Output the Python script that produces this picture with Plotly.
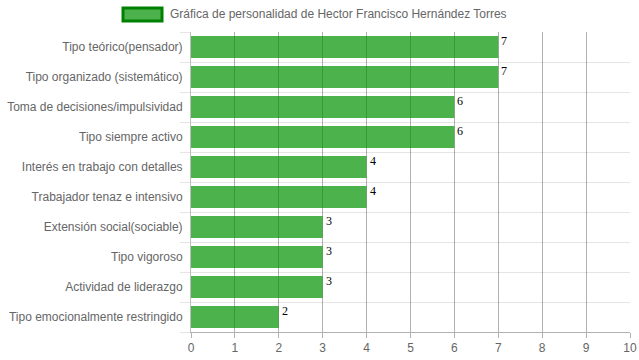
import plotly.graph_objects as go

categories = [
    "Tipo teórico(pensador)",
    "Tipo organizado (sistemático)",
    "Toma de decisiones/impulsividad",
    "Tipo siempre activo",
    "Interés en trabajo con detalles",
    "Trabajador tenaz e intensivo",
    "Extensión social(sociable)",
    "Tipo vigoroso",
    "Actividad de liderazgo",
    "Tipo emocionalmente restringido",
]
values = [7, 7, 6, 6, 4, 4, 3, 3, 3, 2]
series_name = "Gráfica de personalidad de Hector Francisco Hernández Torres"
x_ticks = list(range(0, 11))

bar_fill = "rgba(0,145,0,0.7)"
bar_line = "rgba(0,128,0,1)"

pos = list(range(len(categories)))
bounds = [p - 0.5 for p in pos] + [pos[-1] + 0.5]

fig = go.Figure()
fig.add_trace(go.Bar(
    x=values, y=pos, orientation="h",
    name=series_name,
    marker=dict(color=bar_fill, line=dict(width=0)),
    showlegend=False,
))

for p, v in zip(pos, values):
    fig.add_annotation(
        x=v, y=p, text=str(v), showarrow=False,
        xanchor="left", yanchor="middle", xshift=1, yshift=6,
        font=dict(family="Liberation Serif", size=12, color="#000"),
    )

# legend (swatch + label)
fig.add_shape(type="rect", xref="paper", yref="paper",
              x0=(123 - 191) / 439, x1=(162 - 191) / 439,
              y0=(332 - 21) / 300, y1=(332 - 8) / 300,
              fillcolor=bar_fill, line=dict(color=bar_line, width=3))
fig.add_annotation(xref="paper", yref="paper",
                   x=(168 - 191) / 439, y=(332 - 14.5) / 300,
                   text=series_name, showarrow=False,
                   xanchor="left", yanchor="middle",
                   font=dict(family="Liberation Sans", size=12, color="#666"))

fig.update_layout(
    width=639, height=360,
    margin=dict(l=191, r=9, t=32, b=28),
    paper_bgcolor="white", plot_bgcolor="white",
    bargap=0.27,
    font=dict(family="Liberation Sans", size=12, color="#666"),
)
fig.update_xaxes(
    range=[0, 10], tickvals=x_ticks, ticktext=[str(t) for t in x_ticks],
    automargin=False,
    showgrid=True, gridcolor="rgba(0,0,0,0.3)", gridwidth=1,
    zeroline=False, showline=True, linecolor="rgba(0,0,0,0.3)", linewidth=1,
    ticks="outside", ticklen=5, tickcolor="rgba(0,0,0,0.3)",
    tickfont=dict(family="Liberation Sans", size=12, color="#666"),
)
fig.update_yaxes(
    range=[pos[-1] + 0.5, pos[0] - 0.5],
    tickvals=pos, ticktext=categories,
    automargin=False, zeroline=False,
    showgrid=False,
    showline=True, linecolor="rgba(0,0,0,0.25)", linewidth=1,
    ticks="", ticklabelstandoff=5,
    tickfont=dict(family="Liberation Sans", size=12, color="#666"),
    minor=dict(tickvals=bounds, showgrid=True, gridcolor="rgba(0,0,0,0.1)",
               gridwidth=1, ticks="outside", ticklen=10,
               tickcolor="rgba(0,0,0,0.1)"),
)

fig.write_html("out.html")
